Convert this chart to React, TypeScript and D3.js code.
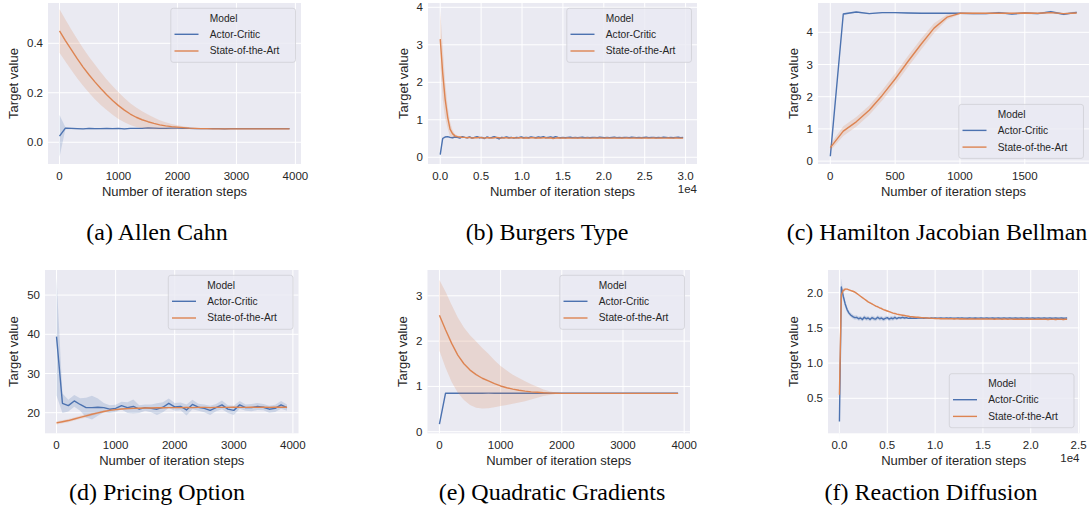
import React from 'react';
import * as d3 from 'd3';

const BLUE = '#4c72b0';
const ORANGE = '#dd8452';
const INK = '#262626';
const SANS = '"Liberation Sans", Arial, sans-serif';
const SERIF = '"Liberation Serif", "Times New Roman", serif';

const SERIES_NAMES = ['Actor-Critic', 'State-of-the-Art'];

// iteration steps per experiment
const stepsA = d3.range(0, 4000, 100);
const stepsB = d3.range(0, 30000, 300);
const stepsC = d3.range(0, 2000, 100);
const stepsD = d3.range(0, 4000, 100);
const stepsE = d3.range(0, 4000, 100);
const stepsF = d3.range(0, 24000, 200);

// (a) Allen Cahn
const acA = [0.025, 0.057, 0.056, 0.055, 0.054, 0.056, 0.055, 0.055, 0.056, 0.055,
  0.056, 0.054, 0.056, 0.056, 0.056, 0.058, 0.057, 0.056, 0.056, 0.057,
  0.057, 0.056, 0.056, 0.055, 0.055, 0.055, 0.055, 0.055, 0.054, 0.055,
  0.055, 0.055, 0.055, 0.055, 0.055, 0.055, 0.055, 0.055, 0.055, 0.055];
const acCiA = [0.085, 0.004, 0.003, 0.003, 0.003, 0.003, 0.003, 0.002, 0.002, 0.002,
  0.002, 0.002, 0.002, 0.002, 0.002, 0.002, 0.002, 0.002, 0.002, 0.002,
  0.001, 0.001, 0.001, 0.001, 0.001, 0.001, 0.001, 0.001, 0.001, 0.001,
  0.001, 0.001, 0.001, 0.001, 0.001, 0.001, 0.001, 0.001, 0.001, 0.001];
const sotaA = [0.450, 0.411, 0.374, 0.338, 0.304, 0.273, 0.244, 0.217, 0.192, 0.169,
  0.148, 0.130, 0.114, 0.101, 0.091, 0.083, 0.076, 0.070, 0.066, 0.063,
  0.061, 0.059, 0.057, 0.056, 0.055, 0.055, 0.054, 0.054, 0.054, 0.054,
  0.054, 0.054, 0.054, 0.054, 0.054, 0.054, 0.054, 0.054, 0.054, 0.054];
const sotaCiA = [0.088, 0.085, 0.082, 0.079, 0.076, 0.073, 0.070, 0.066, 0.062, 0.058,
  0.054, 0.049, 0.044, 0.039, 0.034, 0.029, 0.024, 0.019, 0.015, 0.011,
  0.008, 0.006, 0.004, 0.003, 0.002, 0.002, 0.001, 0.001, 0.001, 0.001,
  0.001, 0.001, 0.001, 0.001, 0.001, 0.001, 0.001, 0.001, 0.001, 0.001];

// (b) Burgers Type
const acB = [0.07, 0.50, 0.54, 0.55, 0.53, 0.52, 0.54, 0.53, 0.51, 0.55,
  0.53, 0.52, 0.54, 0.51, 0.53, 0.55, 0.52, 0.53, 0.50, 0.54,
  0.52, 0.53, 0.55, 0.52, 0.49, 0.53, 0.52, 0.54, 0.52, 0.53,
  0.51, 0.53, 0.52, 0.54, 0.52, 0.53, 0.52, 0.54, 0.53, 0.52,
  0.54, 0.53, 0.55, 0.52, 0.53, 0.54, 0.52, 0.55, 0.53, 0.52,
  0.53, 0.52, 0.53, 0.535, 0.525, 0.53, 0.52, 0.53, 0.535, 0.525,
  0.53, 0.52, 0.53, 0.53, 0.525, 0.535, 0.53, 0.52, 0.53, 0.525,
  0.53, 0.535, 0.525, 0.53, 0.52, 0.53, 0.53, 0.525, 0.535, 0.53,
  0.525, 0.53, 0.52, 0.53, 0.535, 0.525, 0.53, 0.53, 0.52, 0.53,
  0.525, 0.535, 0.53, 0.525, 0.53, 0.52, 0.53, 0.535, 0.525, 0.53];
const acCiB = [0.05, 0.04, 0.02, 0.02, 0.02, 0.02, 0.02, 0.02, 0.02, 0.02,
  0.02, 0.02, 0.02, 0.02, 0.02, 0.02, 0.02, 0.02, 0.02, 0.02,
  0.02, 0.02, 0.02, 0.02, 0.02, 0.02, 0.02, 0.02, 0.02, 0.02,
  0.02, 0.02, 0.02, 0.02, 0.02, 0.02, 0.02, 0.02, 0.02, 0.02,
  0.02, 0.02, 0.02, 0.02, 0.02, 0.02, 0.02, 0.02, 0.02, 0.02,
  0.01, 0.01, 0.01, 0.01, 0.01, 0.01, 0.01, 0.01, 0.01, 0.01,
  0.01, 0.01, 0.01, 0.01, 0.01, 0.01, 0.01, 0.01, 0.01, 0.01,
  0.01, 0.01, 0.01, 0.01, 0.01, 0.01, 0.01, 0.01, 0.01, 0.01,
  0.01, 0.01, 0.01, 0.01, 0.01, 0.01, 0.01, 0.01, 0.01, 0.01,
  0.01, 0.01, 0.01, 0.01, 0.01, 0.01, 0.01, 0.01, 0.01, 0.01];
const sotaB = [3.15, 2.25, 1.55, 1.08, 0.75, 0.63, 0.57, 0.55, 0.54, 0.53,
  0.53, 0.52, 0.53, 0.51, 0.52, 0.52, 0.53, 0.52, 0.51, 0.52,
  0.52, 0.51, 0.52, 0.53, 0.52, 0.51, 0.52, 0.52, 0.51, 0.52,
  0.52, 0.51, 0.52, 0.52, 0.51, 0.52, 0.51, 0.52, 0.52, 0.51,
  0.52, 0.51, 0.52, 0.52, 0.51, 0.52, 0.50, 0.51, 0.52, 0.51,
  0.515, 0.51, 0.515, 0.51, 0.51, 0.515, 0.51, 0.515, 0.51, 0.51,
  0.515, 0.51, 0.51, 0.515, 0.51, 0.515, 0.51, 0.51, 0.515, 0.51,
  0.51, 0.515, 0.51, 0.51, 0.515, 0.51, 0.515, 0.51, 0.51, 0.515,
  0.51, 0.51, 0.515, 0.51, 0.515, 0.51, 0.51, 0.515, 0.51, 0.51,
  0.515, 0.51, 0.51, 0.515, 0.51, 0.51, 0.515, 0.51, 0.51, 0.51];
const sotaCiB = [0.75, 0.70, 0.50, 0.30, 0.20, 0.10, 0.05, 0.03, 0.02, 0.02,
  0.01, 0.01, 0.01, 0.01, 0.01, 0.01, 0.01, 0.01, 0.01, 0.01,
  0.01, 0.01, 0.01, 0.01, 0.01, 0.01, 0.01, 0.01, 0.01, 0.01,
  0.01, 0.01, 0.01, 0.01, 0.01, 0.01, 0.01, 0.01, 0.01, 0.01,
  0.01, 0.01, 0.01, 0.01, 0.01, 0.01, 0.01, 0.01, 0.01, 0.01,
  0.01, 0.01, 0.01, 0.01, 0.01, 0.01, 0.01, 0.01, 0.01, 0.01,
  0.01, 0.01, 0.01, 0.01, 0.01, 0.01, 0.01, 0.01, 0.01, 0.01,
  0.01, 0.01, 0.01, 0.01, 0.01, 0.01, 0.01, 0.01, 0.01, 0.01,
  0.01, 0.01, 0.01, 0.01, 0.01, 0.01, 0.01, 0.01, 0.01, 0.01,
  0.01, 0.01, 0.01, 0.01, 0.01, 0.01, 0.01, 0.01, 0.01, 0.01];

// (c) Hamilton Jacobian Bellman
const acC = [0.15, 4.57, 4.63, 4.58, 4.61, 4.61, 4.60, 4.59, 4.59, 4.59,
  4.59, 4.58, 4.58, 4.61, 4.57, 4.60, 4.58, 4.64, 4.56, 4.62];
const acCiC = [0.05, 0.03, 0.02, 0.02, 0.02, 0.02, 0.02, 0.02, 0.02, 0.02,
  0.02, 0.03, 0.03, 0.03, 0.03, 0.03, 0.03, 0.03, 0.03, 0.03];
const sotaC = [0.42, 0.93, 1.22, 1.58, 2.04, 2.55, 3.10, 3.63, 4.13, 4.47,
  4.59, 4.59, 4.59, 4.59, 4.59, 4.60, 4.59, 4.61, 4.58, 4.60];
const sotaCiC = [0.10, 0.15, 0.15, 0.15, 0.16, 0.17, 0.17, 0.17, 0.15, 0.08,
  0.03, 0.03, 0.02, 0.02, 0.02, 0.02, 0.02, 0.02, 0.02, 0.02];

// (d) Pricing Option
const acD = [39.4, 22.4, 21.8, 23.0, 22.1, 21.3, 21.3, 21.4, 21.3, 20.9,
  21.1, 21.8, 21.3, 21.6, 20.9, 21.3, 21.1, 20.9, 21.4, 22.4,
  21.5, 21.6, 20.7, 22.1, 21.4, 21.1, 20.6, 21.3, 22.0, 20.9,
  20.6, 22.0, 21.3, 21.3, 21.6, 21.4, 20.9, 21.1, 22.0, 21.3];
const acCiD = [15.0, 2.5, 1.5, 1.5, 1.6, 2.5, 3.0, 2.2, 1.2, 1.0,
  0.9, 1.0, 1.4, 1.8, 1.0, 0.8, 1.0, 1.5, 1.3, 1.2,
  1.0, 1.0, 1.4, 1.2, 0.9, 1.0, 1.2, 0.9, 1.1, 1.0,
  1.2, 1.0, 0.8, 0.9, 0.9, 0.8, 0.9, 0.9, 1.0, 0.8];
const sotaD = [17.4, 17.7, 18.0, 18.4, 18.8, 19.2, 19.6, 19.95, 20.3, 20.6,
  20.8, 20.95, 21.05, 21.1, 21.15, 21.2, 21.2, 21.25, 21.25, 21.3,
  21.3, 21.3, 21.35, 21.3, 21.35, 21.35, 21.3, 21.35, 21.35, 21.35,
  21.4, 21.35, 21.35, 21.4, 21.35, 21.4, 21.35, 21.4, 21.4, 21.4];
const sotaCiD = [0.40, 0.40, 0.40, 0.40, 0.40, 0.40, 0.35, 0.30, 0.30, 0.25,
  0.25, 0.20, 0.20, 0.20, 0.20, 0.18, 0.18, 0.18, 0.16, 0.16,
  0.16, 0.15, 0.15, 0.15, 0.15, 0.15, 0.15, 0.15, 0.15, 0.15,
  0.15, 0.15, 0.15, 0.15, 0.15, 0.15, 0.15, 0.15, 0.15, 0.15];

// (e) Quadratic Gradients
const acE = [0.17, 0.85, 0.848, 0.85, 0.85, 0.849, 0.85, 0.85, 0.851, 0.85,
  0.85, 0.85, 0.849, 0.85, 0.85, 0.85, 0.85, 0.85, 0.848, 0.85,
  0.85, 0.85, 0.85, 0.849, 0.85, 0.85, 0.85, 0.85, 0.85, 0.85,
  0.849, 0.85, 0.85, 0.85, 0.85, 0.85, 0.85, 0.85, 0.85, 0.85];
const acCiE = [0.03, 0.006, 0.005, 0.005, 0.005, 0.005, 0.005, 0.005, 0.005, 0.005,
  0.005, 0.005, 0.005, 0.005, 0.005, 0.005, 0.005, 0.005, 0.005, 0.005,
  0.004, 0.004, 0.004, 0.004, 0.004, 0.004, 0.004, 0.004, 0.004, 0.004,
  0.004, 0.004, 0.004, 0.004, 0.004, 0.004, 0.004, 0.004, 0.004, 0.004];
const sotaE = [2.57, 2.25, 1.95, 1.69, 1.50, 1.36, 1.26, 1.18, 1.12, 1.06,
  1.01, 0.97, 0.94, 0.915, 0.895, 0.88, 0.87, 0.86, 0.853, 0.849,
  0.847, 0.847, 0.847, 0.847, 0.847, 0.847, 0.847, 0.847, 0.847, 0.847,
  0.847, 0.847, 0.847, 0.847, 0.847, 0.847, 0.847, 0.847, 0.847, 0.847];
const sotaCiE = [0.78, 0.84, 0.85, 0.83, 0.80, 0.77, 0.73, 0.67, 0.60, 0.52,
  0.44, 0.38, 0.32, 0.27, 0.22, 0.17, 0.12, 0.07, 0.04, 0.015,
  0.008, 0.005, 0.004, 0.003, 0.003, 0.003, 0.003, 0.003, 0.003, 0.003,
  0.003, 0.003, 0.003, 0.003, 0.003, 0.003, 0.003, 0.003, 0.003, 0.003];

// (f) Reaction Diffusion
const acF = [0.17, 2.08, 1.95, 1.84, 1.76, 1.71, 1.68, 1.66, 1.645, 1.65,
  1.63, 1.64, 1.62, 1.65, 1.63, 1.64, 1.62, 1.645, 1.63, 1.625,
  1.65, 1.63, 1.64, 1.62, 1.635, 1.645, 1.625, 1.64, 1.63, 1.65,
  1.63, 1.645, 1.64, 1.65, 1.64, 1.645, 1.635, 1.64, 1.635, 1.64,
  1.635, 1.64, 1.638, 1.642, 1.636, 1.64, 1.638, 1.635, 1.64, 1.637,
  1.64, 1.636, 1.639, 1.642, 1.636, 1.638, 1.64, 1.636, 1.641, 1.637,
  1.639, 1.636, 1.64, 1.638, 1.642, 1.636, 1.639, 1.637, 1.641, 1.638,
  1.636, 1.64, 1.637, 1.639, 1.642, 1.636, 1.638, 1.64, 1.636, 1.639,
  1.641, 1.637, 1.638, 1.64, 1.636, 1.639, 1.642, 1.637, 1.638, 1.64,
  1.636, 1.639, 1.641, 1.637, 1.638, 1.64, 1.636, 1.639, 1.642, 1.637,
  1.638, 1.64, 1.636, 1.639, 1.641, 1.637, 1.638, 1.64, 1.636, 1.639,
  1.641, 1.637, 1.638, 1.64, 1.636, 1.639, 1.641, 1.637, 1.638, 1.64];
const acCiF = [0.30, 0.12, 0.06, 0.05, 0.04, 0.03, 0.03, 0.03, 0.03, 0.03,
  0.03, 0.03, 0.03, 0.03, 0.03, 0.03, 0.03, 0.03, 0.03, 0.03,
  0.03, 0.03, 0.03, 0.03, 0.03, 0.03, 0.03, 0.03, 0.03, 0.03,
  0.02, 0.02, 0.02, 0.02, 0.02, 0.02, 0.01, 0.01, 0.01, 0.01,
  0.01, 0.01, 0.01, 0.01, 0.01, 0.01, 0.01, 0.01, 0.01, 0.01,
  0.01, 0.01, 0.01, 0.01, 0.01, 0.01, 0.01, 0.01, 0.01, 0.01,
  0.01, 0.01, 0.01, 0.01, 0.01, 0.01, 0.01, 0.01, 0.01, 0.01,
  0.01, 0.01, 0.01, 0.01, 0.01, 0.01, 0.01, 0.01, 0.01, 0.01,
  0.01, 0.01, 0.01, 0.01, 0.01, 0.01, 0.01, 0.01, 0.01, 0.01,
  0.01, 0.01, 0.01, 0.01, 0.01, 0.01, 0.01, 0.01, 0.01, 0.01,
  0.01, 0.01, 0.01, 0.01, 0.01, 0.01, 0.01, 0.01, 0.01, 0.01,
  0.01, 0.01, 0.01, 0.01, 0.01, 0.01, 0.01, 0.01, 0.01, 0.01];
const sotaF = [0.55, 1.97, 2.03, 2.05, 2.05, 2.04, 2.03, 2.02, 2.01, 1.99,
  1.97, 1.95, 1.93, 1.91, 1.89, 1.87, 1.855, 1.84, 1.825, 1.81,
  1.80, 1.785, 1.775, 1.76, 1.75, 1.74, 1.73, 1.72, 1.71, 1.705,
  1.695, 1.69, 1.685, 1.68, 1.675, 1.67, 1.665, 1.66, 1.658, 1.655,
  1.652, 1.65, 1.648, 1.646, 1.644, 1.642, 1.64, 1.638, 1.636, 1.635,
  1.634, 1.632, 1.633, 1.63, 1.632, 1.629, 1.631, 1.628, 1.63, 1.629,
  1.627, 1.63, 1.628, 1.626, 1.629, 1.627, 1.628, 1.625, 1.628, 1.626,
  1.627, 1.625, 1.628, 1.626, 1.624, 1.627, 1.625, 1.626, 1.624, 1.627,
  1.625, 1.623, 1.626, 1.624, 1.625, 1.623, 1.626, 1.624, 1.622, 1.625,
  1.624, 1.622, 1.625, 1.623, 1.624, 1.622, 1.625, 1.623, 1.621, 1.624,
  1.622, 1.623, 1.621, 1.624, 1.622, 1.623, 1.621, 1.623, 1.622, 1.62,
  1.623, 1.621, 1.622, 1.62, 1.623, 1.621, 1.622, 1.62, 1.622, 1.621];
const sotaCiF = [0.15, 0.06, 0.03, 0.02, 0.01, 0.01, 0.01, 0.01, 0.01, 0.01,
  0.01, 0.01, 0.01, 0.01, 0.01, 0.01, 0.01, 0.01, 0.01, 0.01,
  0.01, 0.01, 0.01, 0.01, 0.01, 0.01, 0.01, 0.01, 0.01, 0.01,
  0.01, 0.01, 0.01, 0.01, 0.01, 0.01, 0.01, 0.01, 0.01, 0.01,
  0.01, 0.01, 0.01, 0.01, 0.01, 0.01, 0.01, 0.01, 0.01, 0.01,
  0.01, 0.01, 0.01, 0.01, 0.01, 0.01, 0.01, 0.01, 0.01, 0.01,
  0.01, 0.01, 0.01, 0.01, 0.01, 0.01, 0.01, 0.01, 0.01, 0.01,
  0.01, 0.01, 0.01, 0.01, 0.01, 0.01, 0.01, 0.01, 0.01, 0.01,
  0.01, 0.01, 0.01, 0.01, 0.01, 0.01, 0.01, 0.01, 0.01, 0.01,
  0.01, 0.01, 0.01, 0.01, 0.01, 0.01, 0.01, 0.01, 0.01, 0.01,
  0.01, 0.01, 0.01, 0.01, 0.01, 0.01, 0.01, 0.01, 0.01, 0.01,
  0.01, 0.01, 0.01, 0.01, 0.01, 0.01, 0.01, 0.01, 0.01, 0.01];

// tick values
const ticks4000 = [0, 1000, 2000, 3000, 4000];
const ticksB = [0, 5000, 10000, 15000, 20000, 25000, 30000];
const ticksC = [0, 500, 1000, 1500];
const ticksF = [0, 5000, 10000, 15000, 20000, 25000];

const plain = (d: number) => String(d);
const sci = (d: number) => (d / 1e4).toFixed(1);
const one = d3.format('.1f');

const panels = [
  {
    steps: stepsA, ac: acA, acCi: acCiA, sota: sotaA, sotaCi: sotaCiA,
    box: [48, 3, 301, 164], xDomain: [-195, 4095], yDomain: [-0.088, 0.563],
    xTicks: ticks4000, xFmt: plain, yTicks: [0, 0.2, 0.4], yFmt: one,
    offset: '', legend: 'top', caption: '(a) Allen Cahn', capX: 157, capY: 240,
  },
  {
    steps: stepsB, ac: acB, acCi: acCiB, sota: sotaB, sotaCi: sotaCiB,
    box: [428, 3, 697, 164], xDomain: [-1495, 31395], yDomain: [-0.18, 4.115],
    xTicks: ticksB, xFmt: sci, yTicks: [0, 1, 2, 3, 4], yFmt: plain,
    offset: '1e4', legend: 'top', caption: '(b) Burgers Type', capX: 547, capY: 240,
  },
  {
    steps: stepsC, ac: acC, acCi: acCiC, sota: sotaC, sotaCi: sotaCiC,
    box: [818, 3, 1089, 164], xDomain: [-95, 1995], yDomain: [-0.09, 4.91],
    xTicks: ticksC, xFmt: plain, yTicks: [0, 1, 2, 3, 4], yFmt: plain,
    offset: '', legend: 'bottom', caption: '(c) Hamilton Jacobian Bellman', capX: 937, capY: 240,
  },
  {
    steps: stepsD, ac: acD, acCi: acCiD, sota: sotaD, sotaCi: sotaCiD,
    box: [45, 270, 298.5, 433.3], xDomain: [-195, 4095], yDomain: [14.75, 56.4],
    xTicks: ticks4000, xFmt: plain, yTicks: [20, 30, 40, 50], yFmt: plain,
    offset: '', legend: 'top', caption: '(d) Pricing Option', capX: 157, capY: 500,
  },
  {
    steps: stepsE, ac: acE, acCi: acCiE, sota: sotaE, sotaCi: sotaCiE,
    box: [427.5, 270, 690, 433.3], xDomain: [-195, 4095], yDomain: [-0.035, 3.57],
    xTicks: ticks4000, xFmt: plain, yTicks: [0, 1, 2, 3], yFmt: plain,
    offset: '', legend: 'top', caption: '(e) Quadratic Gradients', capX: 552, capY: 500,
  },
  {
    steps: stepsF, ac: acF, acCi: acCiF, sota: sotaF, sotaCi: sotaCiF,
    box: [828, 270, 1079.5, 433.3], xDomain: [-1195, 25095], yDomain: [0.003, 2.322],
    xTicks: ticksF, xFmt: sci, yTicks: [0.5, 1.0, 1.5, 2.0], yFmt: one,
    offset: '1e4', legend: 'bottom', caption: '(f) Reaction Diffusion', capX: 931, capY: 500,
  },
];

const TICK_FS = 11.5;
const LABEL_FS = 13;
const LEG_FS = 10.2;
const LEG_W = 124.7;
const LEG_H = 54;

// rough width of a numeric tick label in Arial metrics
function numWidth(s: string, fs: number) {
  let w = 0;
  for (const ch of s) w += ch === '.' ? 0.278 : ch === '-' ? 0.333 : 0.556;
  return w * fs;
}

function Panel({ p }: { p: any }) {
  const [l, t, r, b] = p.box;
  const x = d3.scaleLinear().domain(p.xDomain).range([l, r]);
  const y = d3.scaleLinear().domain(p.yDomain).range([b, t]);

  const series = [
    { name: SERIES_NAMES[0], color: BLUE, mean: p.ac, ci: p.acCi },
    { name: SERIES_NAMES[1], color: ORANGE, mean: p.sota, ci: p.sotaCi },
  ];

  const maxTickW = d3.max(p.yTicks, (v: number) => numWidth(p.yFmt(v), TICK_FS)) as number;
  const yLabelX = l - 5 - maxTickW - 13.4;

  const lx = r - 5.5 - LEG_W;
  const ly = p.legend === 'top' ? t + 5.3 : b - 5.6 - LEG_H;

  return (
    <g>
      <rect x={l} y={t} width={r - l} height={b - t} fill="#eaeaf2" />
      {p.xTicks.map((v: number) => (
        <line key={'gx' + v} x1={x(v)} x2={x(v)} y1={t} y2={b} stroke="#fff" strokeWidth={1} />
      ))}
      {p.yTicks.map((v: number) => (
        <line key={'gy' + v} x1={l} x2={r} y1={y(v)} y2={y(v)} stroke="#fff" strokeWidth={1} />
      ))}

      {series.map((s) => {
        const area = d3.area<number>()
          .x((_, i) => x(p.steps[i]))
          .y0((v, i) => y(v - s.ci[i]))
          .y1((v, i) => y(v + s.ci[i]));
        const line = d3.line<number>()
          .x((_, i) => x(p.steps[i]))
          .y((v) => y(v));
        return (
          <g key={s.name}>
            <path d={area(s.mean) || ''} fill={s.color} fillOpacity={0.2} stroke="none" />
            <path d={line(s.mean) || ''} fill="none" stroke={s.color} strokeWidth={1.4} strokeLinejoin="round" />
          </g>
        );
      })}

      {/* tick labels */}
      {p.xTicks.map((v: number) => (
        <text key={'tx' + v} x={x(v)} y={b + 12} textAnchor="middle" dominantBaseline="central"
          fontSize={TICK_FS} fill={INK}>{p.xFmt(v)}</text>
      ))}
      {p.yTicks.map((v: number) => (
        <text key={'ty' + v} x={l - 5} y={y(v)} textAnchor="end" dominantBaseline="central"
          fontSize={TICK_FS} fill={INK}>{p.yFmt(v)}</text>
      ))}
      {p.offset && (
        <text x={r} y={b + 25} textAnchor="end" dominantBaseline="central" fontSize={TICK_FS} fill={INK}>
          {p.offset}
        </text>
      )}

      <text x={(l + r) / 2} y={b + 27} textAnchor="middle" dominantBaseline="central"
        fontSize={LABEL_FS} fill={INK}>Number of iteration steps</text>
      <text transform={`translate(${yLabelX},${(t + b) / 2}) rotate(-90)`} textAnchor="middle"
        dominantBaseline="central" fontSize={LABEL_FS} fill={INK}>Target value</text>

      {/* legend */}
      <g transform={`translate(${lx},${ly})`}>
        <rect width={LEG_W} height={LEG_H} rx={2.5} fill="#eaeaf2" fillOpacity={0.8}
          stroke="#cfcfd6" strokeWidth={0.8} />
        <text x={39} y={10} dominantBaseline="central" fontSize={LEG_FS} fill={INK}>Model</text>
        {series.map((s, i) => (
          <g key={'lg' + s.name}>
            <line x1={3.7} x2={27.7} y1={26 + i * 16.7} y2={26 + i * 16.7} stroke={s.color} strokeWidth={1.4} />
            <text x={39} y={26 + i * 16.7} dominantBaseline="central" fontSize={LEG_FS} fill={INK}>{s.name}</text>
          </g>
        ))}
      </g>

      <text x={p.capX} y={p.capY} textAnchor="middle" fontFamily={SERIF} fontSize={24} fill="#000">
        {p.caption}
      </text>
    </g>
  );
}

export default function App() {
  return (
    <svg width={1091} height={514} style={{ position: 'absolute', left: 0, top: 0, background: '#fff' }}
      fontFamily={SANS}>
      {panels.map((p, i) => <Panel key={i} p={p} />)}
    </svg>
  );
}
